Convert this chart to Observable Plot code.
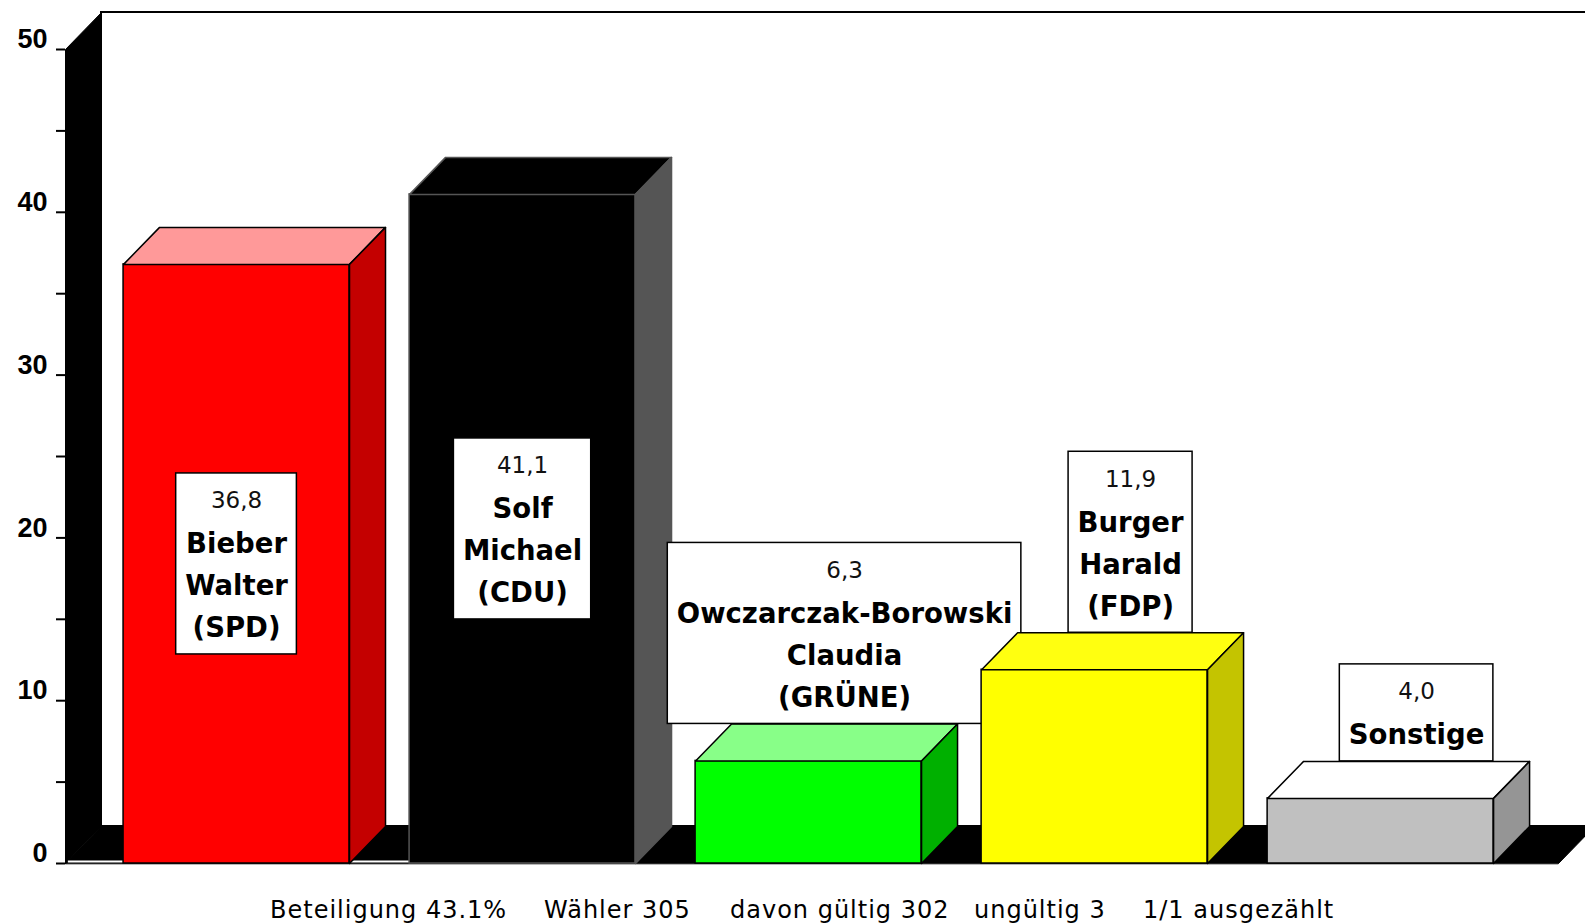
<!DOCTYPE html>
<html><head><meta charset="utf-8">
<script src="https://cdn.jsdelivr.net/npm/d3@7"></script>
<script src="https://cdn.jsdelivr.net/npm/@observablehq/plot@0.6"></script>
<style>
html,body{margin:0;padding:0;background:#fff;overflow:hidden;}
#caption{position:relative;height:44px;width:1585px;font-family:"DejaVu Sans",sans-serif;font-size:24px;letter-spacing:1px;color:#000;}
#caption span{position:absolute;top:15px;line-height:30px;white-space:pre;}
</style></head><body>
<div id="chart"></div><div id="caption"></div>
<script>
// ---- data ----
const candidates = ["SPD", "CDU", "GRÜNE", "FDP", "Sonstige"];
const nameLines = [
  ["Bieber", "Walter", "(SPD)"],
  ["Solf", "Michael", "(CDU)"],
  ["Owczarczak-Borowski", "Claudia", "(GRÜNE)"],
  ["Burger", "Harald", "(FDP)"],
  ["Sonstige"]
];
const values = [36.8, 41.1, 6.3, 11.9, 4.0];
const frontColors = ["#ff0000", "#000000", "#00ff00", "#ffff00", "#c0c0c0"];
const topColors   = ["#ff9999", "#000000", "#88ff88", "#ffff10", "#ffffff"];
const sideColors  = ["#c40000", "#555555", "#00b000", "#c4c400", "#959595"];
const edgeColors  = ["#000000", "#555555", "#000000", "#000000", "#000000"];
const yTicks = [0, 10, 20, 30, 40, 50];
const yMinorTicks = [5, 15, 25, 35, 45];
const captionParts = ["Beteiligung 43.1%", "Wähler 305", "davon gültig 302", "ungültig 3", "1/1 ausgezählt"];

// ---- layout ----
const W = 1585, H = 880, ML = 65, MR = 27, MT = 49, MB = 17;
const xDomain = [-0.598, 4.622];
const STEP = (W - ML - MR) / (xDomain[1] - xDomain[0]);
const YPX = (H - MT - MB) / 50;
const DX = 36, DY = 37;               // depth in px
const dxD = DX / STEP, dyD = DY / YPX; // depth in data units
const HW = 0.395;                     // half bar width in slot units
const LH = 42;
const captionX = [270, 544, 730, 974, 1143];

const cv = document.createElement("canvas").getContext("2d");
function measure(s, font) { cv.font = font; return cv.measureText(s).width; }
const valueFont = '23px "DejaVu Sans"';
const nameFont = 'bold 27.5px "DejaVu Sans"';

const bars = values.map((v, i) => ({i, v, cand: candidates[i]}));
const marks = [];
const poly = (pts, o) => Plot.line(pts, {x: d => d[0], y: d => d[1], curve: "linear-closed", ...o});

// back wall
marks.push(Plot.rect([0], {x1: () => xDomain[0] + dxD, x2: () => xDomain[1] + dxD + 0.3,
  y1: () => dyD, y2: () => 50 + dyD, fill: "white", stroke: "black", strokeWidth: 2}));
// left wall
marks.push(poly([[xDomain[0], 0], [xDomain[0], 50], [xDomain[0] + dxD, 50 + dyD], [xDomain[0] + dxD, dyD]],
  {fill: "black", stroke: "black", strokeWidth: 1}));
// floor
marks.push(poly([[xDomain[0], 0], [xDomain[0] + dxD, dyD], [xDomain[1] + dxD, dyD], [xDomain[1], 0]],
  {fill: "black", stroke: "black", strokeWidth: 1}));
marks.push(Plot.ruleY([0], {x1: () => xDomain[0] + 0.01, x2: () => 1 - HW, stroke: "white", strokeWidth: 2, dy: -2}));

// axis
marks.push(Plot.axisY({ticks: yMinorTicks, tickSize: 9, tickFormat: () => "", strokeWidth: 2}));
marks.push(Plot.axisY({ticks: yTicks, tickSize: 9, tickFormat: () => "", strokeWidth: 2}));
marks.push(Plot.axisY({ticks: yTicks, tickSize: 0, tickPadding: 18, dy: -10, fontSize: 27, fontWeight: "bold",
  fontFamily: '"Liberation Sans Narrow", "Liberation Sans", sans-serif'}));

bars.forEach(b => {
  const i = b.i, v = b.v, x1 = i - HW, x2 = i + HW;
  const st = {stroke: edgeColors[i], strokeWidth: 1.5};
  marks.push(Plot.rect([b], {x1: d => d.i - HW, x2: d => d.i + HW, y1: () => 0, y2: "v", fill: frontColors[i], ...st}));
  marks.push(poly([[x1, v], [x1 + dxD, v + dyD], [x2 + dxD, v + dyD], [x2, v]], {fill: topColors[i], ...st}));
  marks.push(poly([[x2, 0], [x2 + dxD, dyD], [x2 + dxD, v + dyD], [x2, v]], {fill: sideColors[i], ...st}));

  // label box
  const valueText = v.toFixed(1).replace(".", ",");
  const lines = nameLines[i];
  const n = lines.length + 1;
  const h = n * LH + 13;
  const w = Math.max(measure(valueText, valueFont), ...lines.map(l => measure(l, nameFont))) + 18;
  const inside = v * YPX > h * 1.5;
  const anchor = {x: i, y: inside ? v / 2 : v};
  const bx = inside ? 0 : DX;
  const cy = inside ? 0 : -DY - h / 2;
  marks.push(Plot.rect([anchor], {x1: "x", x2: "x", y1: "y", y2: "y",
    insetLeft: -w / 2, insetRight: -w / 2, insetTop: -h / 2, insetBottom: -h / 2,
    dx: bx, dy: cy, fill: "white", stroke: "black", strokeWidth: 1.5}));
  marks.push(Plot.text([anchor], {x: "x", y: "y", text: () => valueText, dx: bx, dy: cy - h / 2 + 27.5,
    fontSize: 23, fontFamily: "DejaVu Sans", fill: "#111"}));
  marks.push(Plot.text([anchor], {x: "x", y: "y", text: () => lines.join("\n"), dx: bx,
    dy: cy - h / 2 + 24.5 + LH * (lines.length + 1) / 2,
    fontSize: 27.5, fontWeight: "bold", lineHeight: LH / 27.5, fontFamily: "DejaVu Sans", fill: "#000"}));
});

const plot = Plot.plot({
  width: W, height: H, marginLeft: ML, marginRight: MR, marginTop: MT, marginBottom: MB,
  x: {domain: xDomain, axis: null},
  y: {domain: [0, 50]},
  style: {background: "white", color: "black", fontFamily: "DejaVu Sans", overflow: "hidden"},
  marks
});
document.getElementById("chart").appendChild(plot);

const cap = document.getElementById("caption");
captionParts.forEach((t, k) => {
  const s = document.createElement("span");
  s.textContent = t;
  s.style.left = captionX[k] + "px";
  cap.appendChild(s);
});
</script>
</body></html>
